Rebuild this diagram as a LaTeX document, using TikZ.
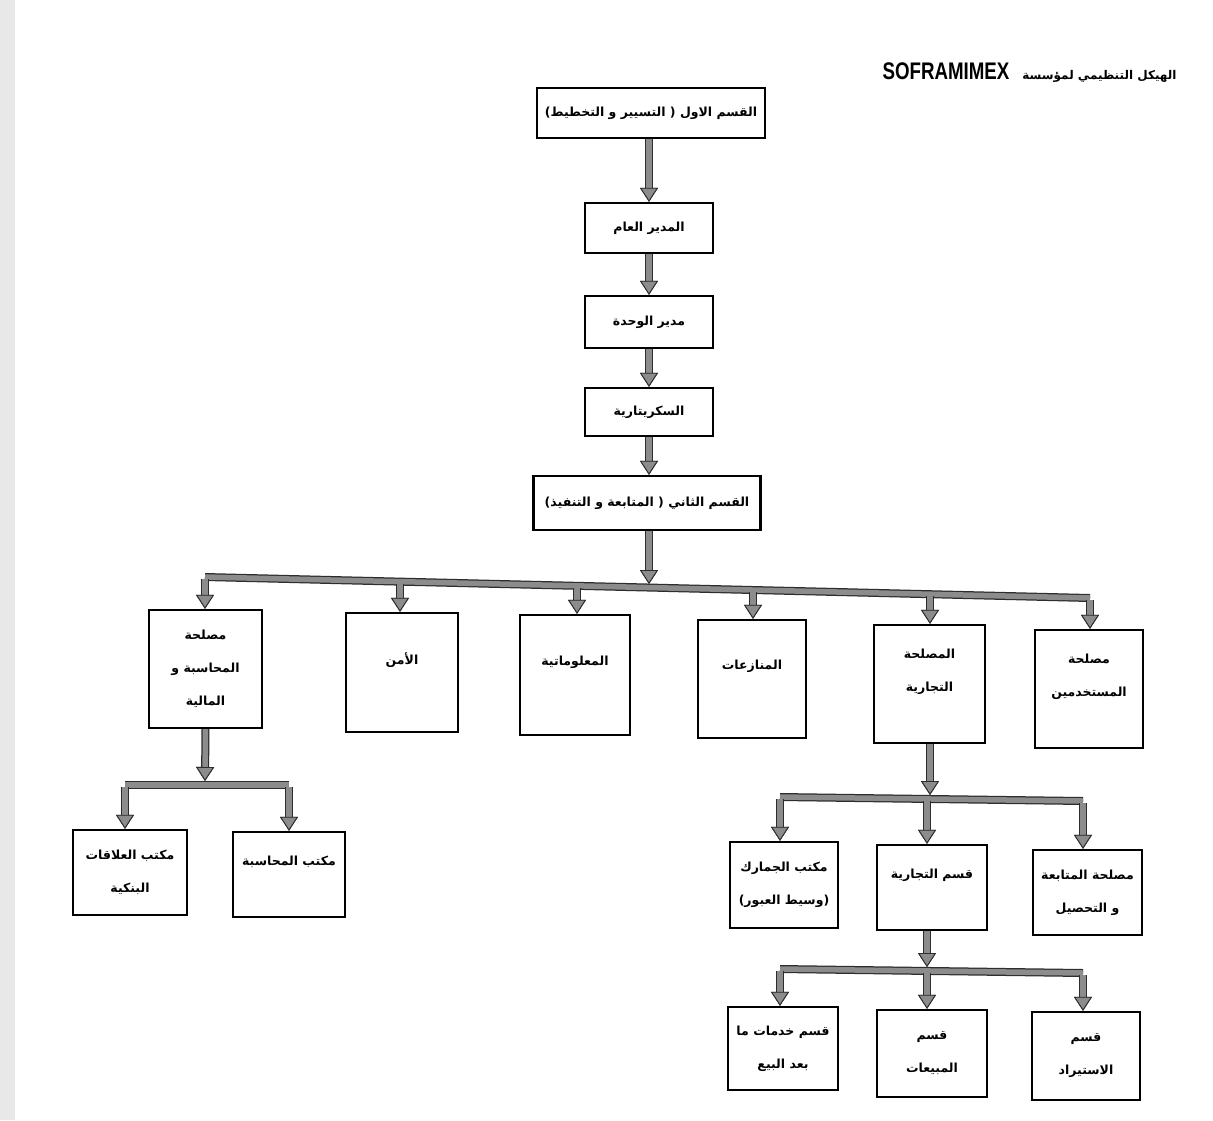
\documentclass[tikz,border=0pt]{standalone}
\usepackage{fontspec}
\usepackage{graphicx}
\usetikzlibrary{arrows.meta}
\TeXXeTstate=1
\newfontfamily\arabicfont[Script=Arabic]{DejaVu Sans}
\newfontfamily\latinfont{Liberation Sans}
\newcommand{\ar}[1]{{\arabicfont\bfseries\beginR #1\endR}}
\tikzset{
  box/.style={draw=black, line width=2.4pt, fill=white, inner sep=2pt, align=center,
    font=\fontsize{12.5pt}{33pt}\selectfont},
  up/.style={text depth=28pt},
  shaft/.style={line width=5.5pt, draw=gray!90, preaction={draw=gray!35!black, line width=8pt}},
  bus/.style={shaft, line cap=square},
  conn/.style={shaft, -{Triangle[width=18pt,length=14pt,line width=0.9pt,color=gray!35!black,fill=gray!90]}},
}
\begin{document}
\begin{tikzpicture}[x=1pt,y=-1pt]
\useasboundingbox (0,0) rectangle (1213,1120);
\fill[gray!18] (0,0) rectangle (15,1120);

\node[anchor=east, font=\fontsize{12pt}{14pt}\selectfont] (title) at (1180,73)
  {\arabicfont\bfseries\beginR الهيكل التنظيمي لمؤسسة\hspace{13pt}\beginL{\latinfont\fontsize{24pt}{26pt}\selectfont\scalebox{0.78}[1]{SOFRAMIMEX}}\endL\endR};

% top chain
\node[box, minimum width=228pt, minimum height=50pt] (t1) at (651,113) {\ar{القسم الاول ( التسيير و التخطيط)}};
\node[box, minimum width=128pt, minimum height=50pt] (t2) at (649,228) {\ar{المدير العام}};
\node[box, minimum width=128pt, minimum height=52pt] (t3) at (649,322) {\ar{مدير الوحدة}};
\node[box, minimum width=128pt, minimum height=48pt] (t4) at (649,412) {\ar{السكريتارية}};
\node[box, minimum width=227pt, minimum height=54pt] (t5) at (647,503) {\ar{القسم الثاني ( المتابعة و التنفيذ)}};

% second level
\node[box, minimum width=113pt, minimum height=118pt] (m1) at (205.5,669) {\ar{مصلحة}\\\ar{المحاسبة و}\\\ar{المالية}};
\node[box, up, minimum width=112pt, minimum height=119pt] (m2) at (402,672.5) {\ar{الأمن}};
\node[box, up, minimum width=110pt, minimum height=120pt] (m3) at (575,675) {\ar{المعلوماتية}};
\node[box, up, minimum width=108pt, minimum height=118pt] (m4) at (752,679) {\ar{المنازعات}};
\node[box, up, minimum width=111pt, minimum height=118pt] (m5) at (929.5,684) {\ar{المصلحة}\\\ar{التجارية}};
\node[box, up, minimum width=108pt, minimum height=118pt] (m6) at (1089,689) {\ar{مصلحة}\\\ar{المستخدمين}};

% left branch
\node[box, minimum width=114pt, minimum height=85pt] (l1) at (130,872.5) {\ar{مكتب العلاقات}\\\ar{البنكية}};
\node[box, up, minimum width=112pt, minimum height=85pt] (l2) at (289,874.5) {\ar{مكتب المحاسبة}};

% right branch
\node[box, minimum width=108pt, minimum height=86pt] (r1) at (784,885) {\ar{مكتب الجمارك}\\\ar{(وسيط العبور)}};
\node[box, up, minimum width=110pt, minimum height=85pt] (r2) at (932,887.5) {\ar{قسم التجارية}};
\node[box, minimum width=109pt, minimum height=85pt] (r3) at (1087.5,892.5) {\ar{مصلحة المتابعة}\\\ar{و التحصيل}};

\node[box, minimum width=110pt, minimum height=83pt] (s1) at (783,1048.5) {\ar{قسم خدمات ما}\\\ar{بعد البيع}};
\node[box, minimum width=110pt, minimum height=87pt] (s2) at (932,1053.5) {\ar{قسم}\\\ar{المبيعات}};
\node[box, minimum width=108pt, minimum height=88pt] (s3) at (1086,1056) {\ar{قسم}\\\ar{الاستيراد}};

% top chain connectors
\draw[conn] (t1.south -| t2.north) -- (t2.north);
\draw[conn] (t2.south) -- (t3.north);
\draw[conn] (t3.south) -- (t4.north);
\draw[conn] (t4.south) -- (t4.south |- t5.north);

% main bus
\coordinate (bL) at (205,577);
\coordinate (bR) at (1090,598);
\coordinate (bC) at (649,584);
\draw[bus] (bL) -- (bR);
\draw[conn] (t5.south -| bC) -- (bC);
\coordinate (d1) at (205,579);
\coordinate (d2) at (400,583.6);
\coordinate (d3) at (577,587.8);
\coordinate (d4) at (753,592);
\coordinate (d5) at (930,596.2);
\coordinate (d6) at (1090,600);
\draw[conn] (d1) -- (d1 |- m1.north);
\draw[conn] (d2) -- (d2 |- m2.north);
\draw[conn] (d3) -- (d3 |- m3.north);
\draw[conn] (d4) -- (d4 |- m4.north);
\draw[conn] (d5) -- (d5 |- m5.north);
\draw[conn] (d6) -- (d6 |- m6.north);

% left sub bus
\coordinate (lL) at (125,785);
\coordinate (lR) at (289,785);
\draw[bus] (lL) -- (lR);
\draw[conn] (m1.south) -- (205,781);
\coordinate (e1) at (125,787);
\coordinate (e2) at (289,787);
\draw[conn] (e1) -- (e1 |- l1.north);
\draw[conn] (e2) -- (e2 |- l2.north);

% right sub bus
\coordinate (rL) at (780,797);
\coordinate (rR) at (1083,801);
\draw[bus] (rL) -- (rR);
\draw[conn] (m5.south -| d5) -- (930,795);
\coordinate (f1) at (780,799);
\coordinate (f2) at (927,801);
\coordinate (f3) at (1083,803);
\draw[conn] (f1) -- (f1 |- r1.north);
\draw[conn] (f2) -- (f2 |- r2.north);
\draw[conn] (f3) -- (f3 |- r3.north);

% bottom sub bus
\coordinate (sL) at (780,969);
\coordinate (sR) at (1083,973);
\draw[bus] (sL) -- (sR);
\draw[conn] (r2.south -| f2) -- (927,967);
\coordinate (g1) at (780,971);
\coordinate (g2) at (927,973);
\coordinate (g3) at (1083,975);
\draw[conn] (g1) -- (g1 |- s1.north);
\draw[conn] (g2) -- (g2 |- s2.north);
\draw[conn] (g3) -- (g3 |- s3.north);
\end{tikzpicture}
\end{document}
